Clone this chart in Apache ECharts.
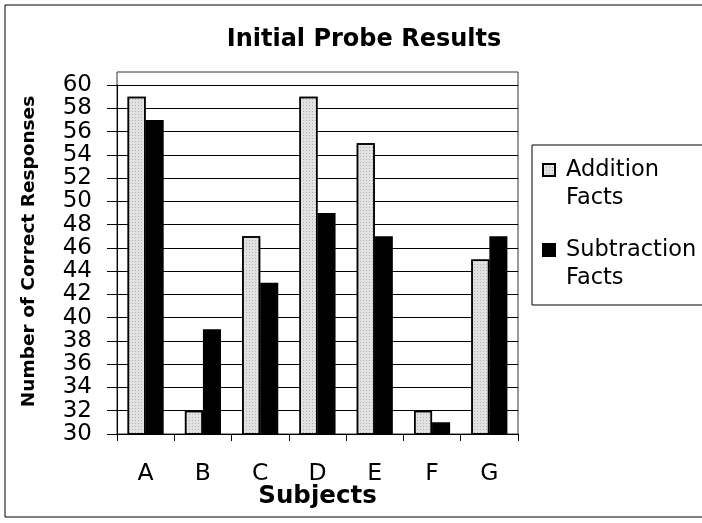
<!DOCTYPE html>
<html><head><meta charset="utf-8">
<script src="https://cdn.jsdelivr.net/npm/echarts@6/dist/echarts.min.js"></script>
<style>html,body{margin:0;padding:0;background:#fff}#c{width:702px;height:523px}</style>
</head><body><div id="c"></div>
<script>
var categories = ['A','B','C','D','E','F','G'];
var additionFacts = [59, 32, 47, 59, 55, 32, 45];
var subtractionFacts = [57, 39, 43, 49, 47, 31, 47];
var yTicks = {min: 30, max: 60, interval: 2};
var seriesNames = ['Addition Facts', 'Subtraction Facts'];

var chart = echarts.init(document.getElementById('c'), null, {renderer: 'canvas'});
var F = '"DejaVu Sans", sans-serif';
chart.setOption({
  animation: false,
  backgroundColor: '#fff',
  title: {
    text: 'Initial Probe Results', left: 359, top: 23, textAlign: 'center',
    textStyle: {fontFamily: F, fontSize: 24, fontWeight: 'bold', color: '#000'}
  },
  legend: {
    orient: 'vertical', left: 542, top: 128,
    itemWidth: 12, itemHeight: 12, itemGap: -4,
    padding: 0,
    icon: 'rect',
    formatter: function (n) { return '\n' + n.replace(' ', '\n'); },
    textStyle: {fontFamily: F, fontSize: 22.5, color: '#000', lineHeight: 28, padding: [0, 0, 0, 6]}
  },
  grid: {left: 117, right: 184, top: 85, bottom: 89},
  graphic: [
    {type: 'rect', shape: {x: 5, y: 5, width: 720, height: 512}, style: {fill: 'none', stroke: '#000', lineWidth: 1}, silent: true},
    {type: 'rect', shape: {x: 117, y: 72, width: 401, height: 362}, style: {fill: 'none', stroke: '#333', lineWidth: 1}, silent: true},
    {type: 'rect', shape: {x: 532, y: 145, width: 200, height: 160}, style: {fill: 'none', stroke: '#000', lineWidth: 1}, silent: true}
  ],
  xAxis: {
    type: 'category', data: categories,
    axisLine: {lineStyle: {color: '#000', width: 1}},
    axisTick: {show: true, length: 7, lineStyle: {color: '#000'}},
    axisLabel: {fontFamily: F, fontSize: 23.5, color: '#000', margin: 28},
    name: 'Subjects', nameLocation: 'middle', nameGap: 50, nameMoveOverlap: false,
    nameTextStyle: {fontFamily: F, fontSize: 24.5, fontWeight: 'bold', color: '#000'}
  },
  yAxis: {
    type: 'value', min: yTicks.min, max: yTicks.max, interval: yTicks.interval,
    axisLine: {show: true, lineStyle: {color: '#000', width: 1}},
    axisTick: {show: true, length: 10, lineStyle: {color: '#000'}},
    axisLabel: {fontFamily: F, fontSize: 23, lineHeight: 18, color: '#000', margin: 25,
      showMinLabel: true, showMaxLabel: true, hideOverlap: false},
    splitLine: {show: true, lineStyle: {color: '#000', width: 1}},
    name: 'Number of Correct Responses', nameLocation: 'middle', nameGap: 78, nameMoveOverlap: false,
    nameTextStyle: {fontFamily: F, fontSize: 18.5, fontWeight: 'bold', color: '#000', padding: [0, 0, 0, 16]}
  },
  series: [
    {name: seriesNames[0], type: 'bar', data: additionFacts, barGap: '0%', barCategoryGap: '37%',
     itemStyle: {color: '#e2e2e2', borderColor: '#000', borderWidth: 1.5,
       decal: {symbol: 'rect', symbolSize: 1, dashArrayX: [1, 2], dashArrayY: [1, 2], color: 'rgba(0,0,0,0.22)'}}},
    {name: seriesNames[1], type: 'bar', data: subtractionFacts,
     itemStyle: {color: '#000', borderColor: '#000', borderWidth: 1.5}}
  ]
});
</script></body></html>
